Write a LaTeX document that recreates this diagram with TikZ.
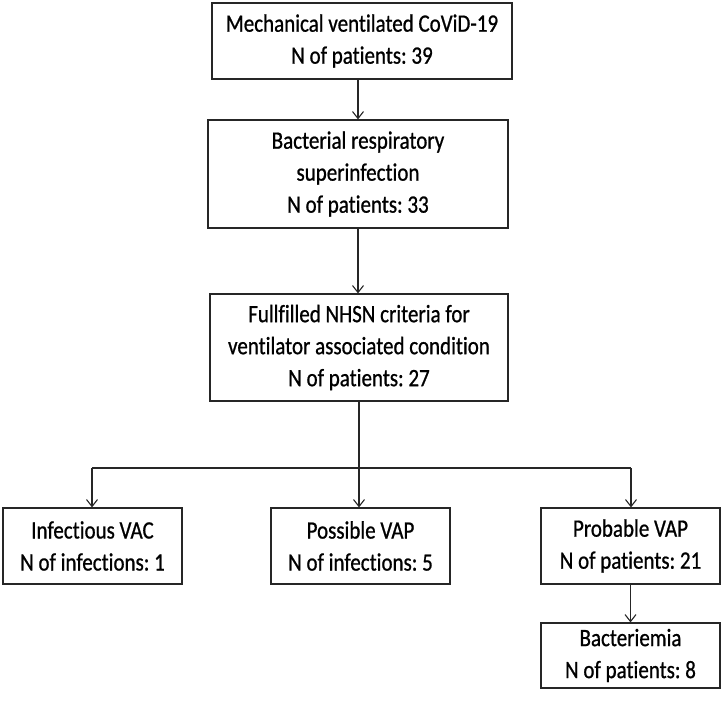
\documentclass[tikz,border=0pt]{standalone}
\usepackage{fontspec}
\setmainfont[Ligatures={NoCommon},FakeStretch=0.84,FakeBold=0.8]{Carlito}
\usetikzlibrary{arrows.meta}
\begin{document}
\frenchspacing
\begin{tikzpicture}[x=1pt,y=-1pt,
  box/.style={draw=black!85,line width=1.2pt,align=center,inner sep=0pt,
    font=\fontsize{25}{32}\selectfont},
  arr/.style={draw=black!85,line width=1.2pt,-{Straight Barb[length=7pt,width=11pt,line width=1.1pt]}},
  ln/.style={draw=black!85,line width=1.2pt}]
\useasboundingbox (0,0) rectangle (723,702);
\node[box,minimum width=300pt,minimum height=76pt] (b1) at (362,41) {Mechanical ventilated CoViD-19\\N of patients: 39};
\node[box,minimum width=300pt,minimum height=108pt] (b2) at (358,174) {Bacterial respiratory\\superinfection\\N of patients: 33};
\node[box,minimum width=298pt,minimum height=107pt] (b3) at (359,347.5) {Fullfilled NHSN criteria for\\ventilator associated condition\\N of patients: 27};
\node[box,minimum width=179pt,minimum height=76pt] (l) at (92.5,546) {Infectious VAC\\N of infections: 1};
\node[box,minimum width=179pt,minimum height=76pt] (m) at (360.5,546) {Possible VAP\\N of infections: 5};
\node[box,minimum width=179pt,minimum height=76pt] (r) at (630.5,546) {Probable VAP\\N of patients: 21};
\node[box,minimum width=179pt,minimum height=65pt] (bac) at (630.5,655.5) {Bacteriemia\\N of patients: 8};
\coordinate (hm) at (359,468);
\coordinate (hl) at (92,468);
\coordinate (hr) at (631,468);
\draw[arr] (b1.south -| b2.north) -- (b2.north);
\draw[arr] (b2.south) -- (b2.south |- b3.north);
\draw[arr] (b3.south) -- (b3.south |- m.north);
\draw[ln] (hl) -- (hr);
\draw[arr] (hl) -- (hl |- l.north);
\draw[arr] (hr) -- (hr |- r.north);
\draw[arr] (r.south) -- (bac.north);
\end{tikzpicture}
\end{document}
